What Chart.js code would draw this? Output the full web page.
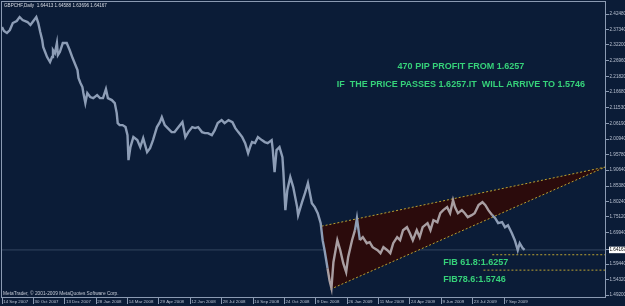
<!DOCTYPE html>
<html>
<head>
<meta charset="utf-8">
<script src="https://cdn.jsdelivr.net/npm/chart.js@4.4.0/dist/chart.umd.min.js"></script>
<style>
  html, body { margin: 0; padding: 0; background: #0b1c37; }
  #cntr { width: 625px; height: 306px; }
</style>
</head>
<body>
<div id="cntr"><canvas id="myChart" width="625" height="306"></canvas></div>
<script>
// Serie de precios (barra diaria, cierre)
const barras = [0, 2, 5, 8, 11, 15, 18, 21, 26, 29, 32, 35, 37, 39, 41, 42, 44, 46, 49, 51, 52, 54, 56, 57, 59, 62, 66, 69, 72, 77,
  78, 80, 82, 83, 85, 87, 90, 93, 97, 100, 103, 106, 108, 112, 115, 117, 118, 120, 123, 126, 128, 129, 131, 134, 138, 141, 144, 148, 151, 154,
  158, 161, 163, 166, 169, 173, 176, 180, 184, 187, 190, 194, 197, 200, 204, 207, 210, 214, 217, 220, 224, 227, 231, 235, 238, 241, 245, 248, 251, 253,
  255, 258, 261, 265, 268, 271, 275, 276, 278, 280, 283, 286, 287, 289, 291, 294, 297, 301, 302, 306, 309, 312, 316, 319, 322, 325, 327, 329, 332, 334,
  336, 338, 342, 345, 348, 351, 353, 357, 360, 362, 365, 368, 372, 375, 378, 383, 386, 389, 393, 396, 399, 403, 406, 409, 413, 416, 419, 423, 426, 429,
  434, 437, 440, 444, 447, 450, 454, 457, 460, 462, 465, 469, 472, 475, 479, 482, 486, 490, 493, 496, 500, 503, 506, 510, 513, 516, 520, 523, 526, 528,
  531, 533];
const cierres = [2.3816, 2.3683, 2.3617, 2.3716, 2.3949, 2.4015, 2.4148, 2.4049, 2.3982, 2.3883, 2.4015, 2.4148, 2.3949, 2.3650, 2.3384, 2.3152, 2.2986, 2.2819, 2.2653, 2.2819, 2.3052, 2.2952, 2.3285, 2.2886, 2.2986, 2.3285, 2.3285, 2.3052, 2.2786, 2.2388,
  2.2122, 2.1956, 2.1823, 2.1624, 2.1291, 2.1624, 2.1491, 2.1457, 2.1557, 2.1457, 2.1457, 2.1756, 2.1457, 2.1391, 2.1291, 2.0959, 2.0627, 2.0561, 2.0561, 2.0494, 2.0228, 1.9398, 1.9830, 2.0162, 2.0062, 1.9830, 2.0129, 1.9664, 1.9796, 2.0062,
  2.0494, 2.0660, 2.0826, 2.0561, 2.0461, 2.0328, 2.0328, 2.0494, 2.0660, 2.0162, 2.0328, 2.0494, 2.0461, 2.0494, 2.0328, 2.0295, 2.0295, 2.0228, 2.0394, 2.0627, 2.0727, 2.0627, 2.0727, 2.0660, 2.0461, 2.0328, 2.0162, 1.9963, 1.9630, 1.9830,
  1.9996, 1.9963, 2.0162, 2.0062, 1.9996, 1.9963, 2.0062, 1.9796, 1.8999, 1.9730, 1.9830, 1.9497, 1.8999, 1.7737, 1.8401, 1.8833, 1.8501, 1.7837, 1.7571, 1.8002, 1.8302, 1.8634, 1.7969, 1.7837, 1.7637, 1.7305, 1.6740, 1.6408, 1.5810, 1.5411,
  1.5146, 1.6009, 1.6740, 1.6408, 1.5976, 1.5677, 1.6175, 1.6740, 1.7072, 1.7471, 1.6740, 1.6840, 1.6640, 1.6674, 1.6508, 1.6408, 1.6308, 1.6508, 1.6408, 1.6308, 1.6640, 1.6840, 1.6740, 1.7072, 1.7172, 1.6973, 1.6740, 1.7072, 1.6840, 1.7172,
  1.7305, 1.7072, 1.7405, 1.7338, 1.7637, 1.7737, 1.7837, 1.7637, 1.8069, 1.7837, 1.7637, 1.7737, 1.7637, 1.7504, 1.7571, 1.7637, 1.7903, 1.8002, 1.7903, 1.7737, 1.7571, 1.7471, 1.7305, 1.7338, 1.7172, 1.7238, 1.6973, 1.6740, 1.6408, 1.6640,
  1.6474, 1.64167];
// Eje temporal
const fechas = ['14 Sep 2007', '30 Oct 2007', '13 Dec 2007', '28 Jan 2008', '14 Mar 2008', '29 Apr 2008', '12 Jun 2008', '28 Jul 2008', '10 Sep 2008',
  '24 Oct 2008', '9 Dec 2008', '26 Jan 2009', '11 Mar 2009', '24 Apr 2009', '9 Jun 2009', '23 Jul 2009', '7 Sep 2009'];
const barrasFechas = [0, 32, 64, 96, 128, 160, 192, 224, 256, 288, 320, 352, 384, 416, 448, 480, 512];
// Eje de precios
const preciosEje = [2.4248, 2.3734, 2.3220, 2.2696, 2.2182, 2.1668, 2.1153, 2.0619, 2.0094, 1.9578, 1.9064, 1.8538, 1.8024, 1.7512, 1.6994, 1.5944, 1.5432, 1.4920];
const precioActual = 1.64167;
// Triangulo (vertices: barra, precio)
const trianguloBarras = [326, 615, 335];
const trianguloPrecios = [1.7205, 1.9165, 1.5112];
// Niveles Fibonacci
const fibNiveles = [1.6257, 1.5746];
const fibDesde = [500, 491];
// Textos del grafico
const notasTexto = ['470 PIP PROFIT FROM 1.6257', 'IF  THE PRICE PASSES 1.6257.IT  WILL ARRIVE TO 1.5746', 'FIB 61.8:1.6257', 'FIB78.6:1.5746'];
const notasBarras = [468, 468, 450, 450];
const notasPrecios = [2.2520, 2.1923, 1.6009, 1.5445];
const notasAlineado = ['center', 'center', 'left', 'left'];

const BARRA_MAX = 616;
const COLOR_FONDO = '#0b1c37';
const COLOR_EJE = '#8b9ab2';
const COLOR_TEXTO_EJE = '#b8c0d0';
const COLOR_PUNTEADO = '#b9a132';
const COLOR_VERDE = '#36d27a';

/**
 * * Comprueba si un punto (barra, precio) cae dentro del triangulo
 */
function dentroTriangulo(x, y) {
  const s = (i, j) => {
    const [x1, y1, x2, y2] = [trianguloBarras[i], trianguloPrecios[i], trianguloBarras[j], trianguloPrecios[j]];
    return (x - x2) * (y1 - y2) - (x1 - x2) * (y - y2);
  };
  const d1 = s(0, 1), d2 = s(1, 2), d3 = s(2, 0);
  const neg = d1 < 0 || d2 < 0 || d3 < 0;
  const pos = d1 > 0 || d2 > 0 || d3 > 0;
  return !(neg && pos);
}

const serie = barras.map((b, i) => ({ x: b, y: cierres[i] }));
const triangulo = [0, 1, 2, 0].map(i => ({ x: trianguloBarras[i], y: trianguloPrecios[i] }));

const lineaBase = { pointRadius: 0, tension: 0, fill: false, borderWidth: 1 };

/**
 * * Plugin para fondo, marco y textos
 */
const decorado = {
  id: 'decorado',
  beforeDraw(chart) {
    const ctx = chart.ctx;
    ctx.save();
    ctx.fillStyle = COLOR_FONDO;
    ctx.fillRect(0, 0, chart.width, chart.height);
    ctx.restore();
  },
  afterDatasetsDraw(chart) {
    const ctx = chart.ctx;
    const x = chart.scales.x;
    const y = chart.scales.y;
    ctx.save();
    ctx.fillStyle = COLOR_VERDE;
    ctx.font = 'bold 9px "Liberation Sans", Arial, sans-serif';
    ctx.textBaseline = 'middle';
    notasTexto.forEach((t, i) => {
      ctx.textAlign = notasAlineado[i];
      ctx.fillText(t, x.getPixelForValue(notasBarras[i]), y.getPixelForValue(notasPrecios[i]));
    });
    ctx.restore();
  },
  afterDraw(chart) {
    const ctx = chart.ctx;
    const a = chart.chartArea;
    ctx.save();
    ctx.strokeStyle = COLOR_EJE;
    ctx.lineWidth = 1;
    ctx.strokeRect(Math.round(a.left) - 0.5, Math.round(a.top) - 0.5, Math.round(a.right - a.left), Math.round(a.bottom - a.top) + 1);
    ctx.fillStyle = '#d8dce4';
    ctx.textBaseline = 'middle';
    ctx.textAlign = 'left';
    ctx.font = '4.6px "Liberation Sans", Arial, sans-serif';
    ctx.fillText('GBPCHF,Daily  1.64413 1.64588 1.63696 1.64167', a.left + 2, a.top + 3.5);
    ctx.fillStyle = '#c4cad6';
    ctx.font = '4.8px "Liberation Sans", Arial, sans-serif';
    ctx.fillText('MetaTrader, \u00a9 2001-2009 MetaQuotes Software Corp.', a.left + 1, a.bottom - 3.5);
    ctx.restore();
  }
};

const ctx = document.getElementById('myChart');
new Chart(ctx, {
  type: 'line',
  data: {
    datasets: [
      {
        ...lineaBase,
        data: serie,
        borderWidth: 2.4,
        borderColor: '#8d9db6',
        segment: {
          borderColor: c => (dentroTriangulo(c.p0.parsed.x, c.p0.parsed.y) && dentroTriangulo(c.p1.parsed.x, c.p1.parsed.y)) ? '#a89ea2' : undefined
        },
        order: 0
      },
      { ...lineaBase, data: [triangulo[0], triangulo[1]], borderColor: COLOR_PUNTEADO, borderDash: [2, 2], order: 1 },
      { ...lineaBase, data: [triangulo[2], triangulo[1]], borderColor: COLOR_PUNTEADO, borderDash: [2, 2], order: 1 },
      ...fibNiveles.map((f, i) => ({
        ...lineaBase,
        data: [{ x: fibDesde[i], y: f }, { x: BARRA_MAX, y: f }],
        borderColor: COLOR_PUNTEADO,
        borderDash: [2, 2],
        order: 1
      })),
      { ...lineaBase, data: triangulo, borderWidth: 0, borderColor: 'rgba(0,0,0,0)', backgroundColor: '#2b0b0c', fill: 'shape', order: 5 },
      { ...lineaBase, data: [{ x: 0, y: precioActual }, { x: BARRA_MAX, y: precioActual }], borderColor: '#34465f', order: 6 }
    ]
  },
  options: {
    responsive: false,
    animation: false,
    layout: { padding: { left: 2, top: 2, right: 0, bottom: 0 } },
    plugins: { legend: { display: false }, tooltip: { enabled: false } },
    scales: {
      x: {
        type: 'linear',
        min: 0,
        max: BARRA_MAX,
        border: { display: false },
        grid: { drawOnChartArea: false, drawTicks: true, tickLength: 7, color: COLOR_EJE },
        ticks: {
          autoSkip: false,
          maxRotation: 0,
          minRotation: 0,
          align: 'start',
          padding: -5,
          color: COLOR_TEXTO_EJE,
          font: { family: '"Liberation Sans", Arial, sans-serif', size: 4.4 },
          callback: (v, i) => ' ' + fechas[i]
        },
        afterBuildTicks: s => { s.ticks = barrasFechas.map(v => ({ value: v })); },
        afterFit: s => { s.height = 9; s.paddingLeft = 0; s.paddingRight = 0; }
      },
      y: {
        type: 'linear',
        position: 'right',
        min: 1.4854,
        max: 2.4647,
        border: { display: false },
        grid: { drawOnChartArea: false, drawTicks: true, tickLength: 3, color: COLOR_EJE },
        ticks: {
          autoSkip: false,
          padding: 0.5,
          color: c => c.tick && c.tick.value === precioActual ? '#000000' : COLOR_TEXTO_EJE,
          showLabelBackdrop: c => !!(c.tick && c.tick.value === precioActual),
          backdropColor: '#ffffff',
          backdropPadding: 0.5,
          font: { family: '"Liberation Sans", Arial, sans-serif', size: 4.6 },
          callback: v => v.toFixed(5)
        },
        afterBuildTicks: s => { s.ticks = preciosEje.concat([precioActual]).map(v => ({ value: v })); },
        afterFit: s => { s.width = 19; s.paddingTop = 0; s.paddingBottom = 0; }
      }
    }
  },
  plugins: [decorado]
});
</script>
</body>
</html>
